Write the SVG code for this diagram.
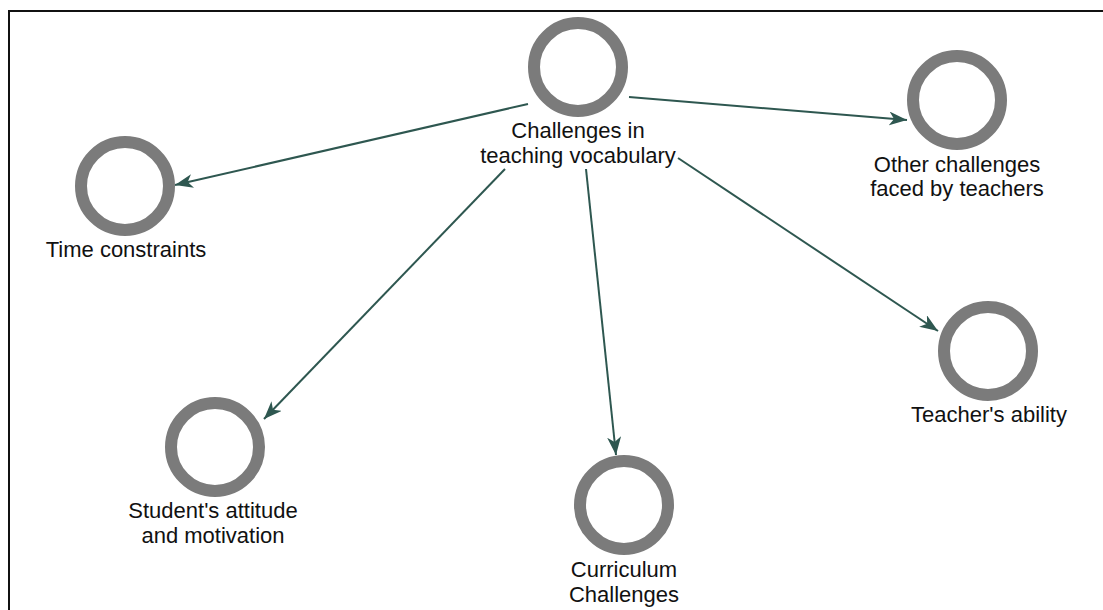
<svg xmlns="http://www.w3.org/2000/svg" width="1103" height="610" viewBox="0 0 1103 610">
<defs>
<style>
.ring{fill:#fff;stroke:#7b7b7b;stroke-width:12}
.lbl{font-family:"Liberation Sans",Arial,sans-serif;font-size:22px;fill:#111;text-anchor:middle}
.edge{stroke:#2e5750;stroke-width:2;fill:none;marker-end:url(#arr)}
</style>
<marker id="arr" markerUnits="userSpaceOnUse" markerWidth="20" markerHeight="14" refX="18" refY="7" orient="auto">
<path d="M0,0 L18,7 L0,14 L5,7 Z" fill="#2e5750"/>
</marker>
</defs>
<rect width="1103" height="610" fill="#fff"/>
<path d="M9,610 L9,11 L1103,11" fill="none" stroke="#111" stroke-width="2"/>
<g id="connectors">
<line class="edge" x1="528" y1="104" x2="175" y2="185"/>
<line class="edge" x1="629" y1="97" x2="907" y2="120"/>
<line class="edge" x1="505" y1="169" x2="264" y2="419"/>
<line class="edge" x1="586" y1="169" x2="616" y2="455"/>
<line class="edge" x1="678" y1="158" x2="938" y2="331"/>
</g>
<g id="node-center">
<circle class="ring" cx="578" cy="67" r="44"/>
<text class="lbl" x="578" y="138">Challenges in</text>
<text class="lbl" x="578" y="163">teaching vocabulary</text>
</g>
<g id="node-time">
<circle class="ring" cx="125" cy="186" r="44"/>
<text class="lbl" x="126" y="257">Time constraints</text>
</g>
<g id="node-other">
<circle class="ring" cx="957" cy="100" r="44"/>
<text class="lbl" x="957" y="172">Other challenges</text>
<text class="lbl" x="957" y="196">faced by teachers</text>
</g>
<g id="node-teacher">
<circle class="ring" cx="988" cy="351" r="44"/>
<text class="lbl" x="989" y="422">Teacher's ability</text>
</g>
<g id="node-student">
<circle class="ring" cx="215" cy="447" r="44"/>
<text class="lbl" x="213" y="518">Student's attitude</text>
<text class="lbl" x="213" y="543">and motivation</text>
</g>
<g id="node-curriculum">
<circle class="ring" cx="624" cy="505" r="44"/>
<text class="lbl" x="624" y="577">Curriculum</text>
<text class="lbl" x="624" y="602">Challenges</text>
</g>
</svg>
